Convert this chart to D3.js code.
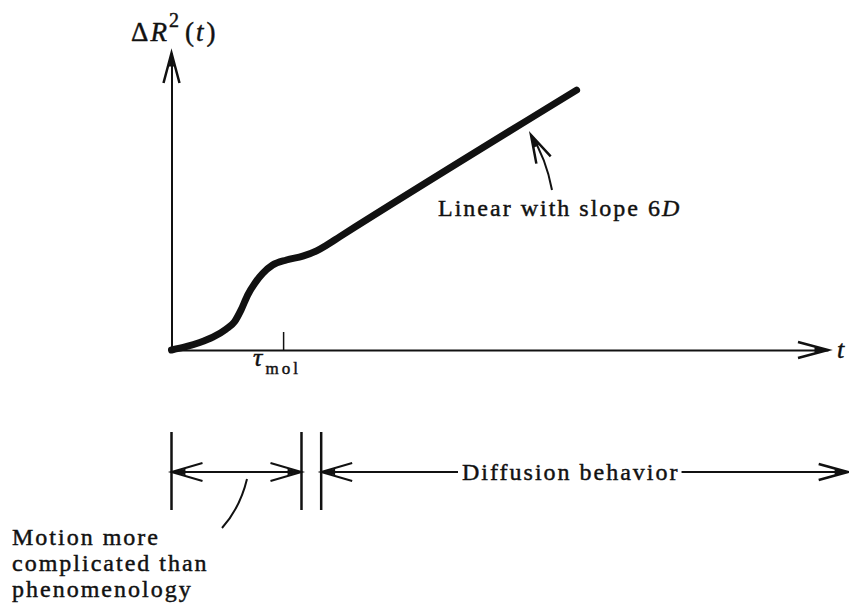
<!DOCTYPE html>
<html>
<head>
<meta charset="utf-8">
<script src="https://cdn.jsdelivr.net/npm/d3@7"></script>
<style>
  body { margin: 0; background: #fff; }
  svg { display: block; }
  text { font-family: "Liberation Serif", "Times New Roman", serif; fill: #111; stroke: #111; stroke-width: 0.45px; }
  .axis path, .axis line { stroke: #111; }
</style>
</head>
<body>
<svg id="chart"></svg>
<script>
// Mean square displacement sketch (arbitrary units)
const curveT  = [0, 2.2, 4.3, 6.3, 8.3, 9.6, 10.6, 11.6, 12.7, 13.9, 15.4, 17.5, 20.0, 22.1, 23.6, 25.6, 61.7];
const curveR2 = [0, 1.1, 2.5, 4.3, 7.0, 9.5, 13.5, 18.5, 22.5, 25.8, 28.6, 30.3, 31.6, 33.4, 35.3, 38.1, 87.5];
const tauMol = 17;
// regime boundaries on the time line below the plot
const regimeBounds = [0, 19.8, 22.8, 103];
const slopeLabel = 'Linear with slope 6';
const diffusionLabel = 'Diffusion behavior';
const motionLabel = ['Motion more', 'complicated than', 'phenomenology'];

class MsdChart {

  constructor(_config) {
    this.config = {
      parentElement: _config.parentElement,
      containerWidth: _config.containerWidth || 849,
      containerHeight: _config.containerHeight || 605
    };
    this.data = curveT.map((t, i) => ({t: t, r2: curveR2[i]}));
    this.initVis();
  }

  initVis() {
    let vis = this;

    vis.xScale = d3.scaleLinear().domain([0, 100]).range([171.5, 828]);
    vis.yScale = d3.scaleLinear().domain([0, 100]).range([350, 53]);

    vis.svg = d3.select(vis.config.parentElement)
        .attr('width', vis.config.containerWidth)
        .attr('height', vis.config.containerHeight);

    vis.chart = vis.svg.append('g');

    vis.xAxis = d3.axisBottom(vis.xScale)
        .tickValues([tauMol])
        .tickSizeInner(-18)
        .tickSizeOuter(0)
        .tickFormat('');

    vis.yAxis = d3.axisLeft(vis.yScale)
        .tickValues([])
        .tickSizeOuter(0);

    vis.xAxisG = vis.chart.append('g')
        .attr('class', 'axis x-axis')
        .attr('transform', `translate(0,${vis.yScale(0)})`);

    vis.yAxisG = vis.chart.append('g')
        .attr('class', 'axis y-axis')
        .attr('transform', `translate(${vis.xScale(0)},0)`);

    vis.renderVis();
  }

  // open arrow head, tip at (x,y), pointing along (dx,dy)
  chevron(g, x, y, dx, dy, len, half, width) {
    const n = Math.hypot(dx, dy), ux = dx / n, uy = dy / n;
    const bx = x - ux * len, by = y - uy * len;
    g.append('path')
        .attr('d', `M${bx - uy * half},${by + ux * half}L${x},${y}L${bx + uy * half},${by - ux * half}`)
        .attr('fill', 'none')
        .attr('stroke', '#111')
        .attr('stroke-width', width)
        .attr('stroke-linejoin', 'miter');
    g.append('path')
        .attr('d', `M${x - ux * len * 0.45 - uy * half * 0.35},${y - uy * len * 0.45 + ux * half * 0.35}L${x},${y}L${x - ux * len * 0.45 + uy * half * 0.35},${y - uy * len * 0.45 - ux * half * 0.35}Z`)
        .attr('fill', '#111');
  }

  renderVis() {
    let vis = this;
    const x = vis.xScale, y = vis.yScale;

    vis.xAxisG.call(vis.xAxis);
    vis.yAxisG.call(vis.yAxis);
    vis.chart.selectAll('.axis path.domain').attr('stroke-width', 2);
    vis.xAxisG.selectAll('.tick line').attr('stroke-width', 1.5);

    // axis arrow heads
    vis.chevron(vis.chart, x.range()[1], y(0), 1, 0, 30, 8, 2.5);
    vis.chevron(vis.chart, x(0), y.range()[1], 0, -1, 30, 8, 2.5);

    // the curve
    vis.line = d3.line()
        .x(d => x(d.t))
        .y(d => y(d.r2))
        .curve(d3.curveMonotoneX);

    vis.chart.selectAll('.msd-line')
        .data([vis.data])
      .join('path')
        .attr('class', 'msd-line')
        .attr('d', vis.line)
        .attr('fill', 'none')
        .attr('stroke', '#111')
        .attr('stroke-width', 7)
        .attr('stroke-linecap', 'round');

    // axis labels
    const yl = vis.chart.append('text')
        .attr('x', 131).attr('y', 41)
        .style('font-size', '27px');
    yl.append('tspan').text('Δ');
    yl.append('tspan').attr('dx', 2).style('font-style', 'italic').text('R');
    yl.append('tspan').attr('dy', -14).attr('dx', 2).style('font-size', '20px').text('2');
    yl.append('tspan').attr('dy', 14).attr('dx', 6).text('(');
    yl.append('tspan').style('font-style', 'italic').attr('dx', 2).text('t');
    yl.append('tspan').attr('dx', 3).text(')');

    vis.chart.append('text')
        .attr('x', 837).attr('y', 358)
        .style('font-size', '26px').style('font-style', 'italic')
        .text('t');

    const tl = vis.chart.append('text')
        .attr('x', x(tauMol) - 30).attr('y', 366)
        .style('font-size', '26px');
    tl.append('tspan').style('font-style', 'italic').text('τ');
    tl.append('tspan').attr('dy', 8).attr('dx', 3)
        .style('font-size', '17px').style('letter-spacing', '3px').text('mol');

    // pointer to the linear part
    vis.chart.append('path')
        .attr('d', 'M552,190Q546,158 531,135')
        .attr('fill', 'none').attr('stroke', '#111').attr('stroke-width', 2);
    vis.chevron(vis.chart, 531, 135, -13, -26, 28, 8, 2.5);

    const sl = vis.chart.append('text')
        .attr('x', 438).attr('y', 216)
        .style('font-size', '24px').style('letter-spacing', '2px');
    sl.append('tspan').text(slopeLabel);
    sl.append('tspan').style('font-style', 'italic').text('D');

    // time line of regimes
    const yt = 472;
    const bx = regimeBounds.map(d => x(d));
    vis.chart.selectAll('.bound')
        .data(regimeBounds.slice(0, 3))
      .join('line')
        .attr('class', 'bound')
        .attr('x1', d => x(d)).attr('x2', d => x(d))
        .attr('y1', 432).attr('y2', 510)
        .attr('stroke', '#111').attr('stroke-width', 2.5);

    vis.chart.append('line')
        .attr('x1', bx[0]).attr('x2', bx[1]).attr('y1', yt).attr('y2', yt)
        .attr('stroke', '#111').attr('stroke-width', 2);
    vis.chevron(vis.chart, bx[0], yt, -1, 0, 31, 9, 2);
    vis.chevron(vis.chart, bx[1], yt, 1, 0, 31, 9, 2);

    const dl = vis.chart.append('text')
        .attr('x', 462).attr('y', yt + 8)
        .style('font-size', '24px').style('letter-spacing', '2px')
        .text(diffusionLabel);
    const dw = dl.node().getComputedTextLength();

    vis.chart.append('line')
        .attr('x1', bx[2]).attr('x2', 458).attr('y1', yt).attr('y2', yt)
        .attr('stroke', '#111').attr('stroke-width', 2);
    vis.chart.append('line')
        .attr('x1', 462 + dw + 2).attr('x2', bx[3]).attr('y1', yt).attr('y2', yt)
        .attr('stroke', '#111').attr('stroke-width', 2);
    vis.chevron(vis.chart, bx[2], yt, -1, 0, 31, 9, 2);
    vis.chevron(vis.chart, bx[3], yt, 1, 0, 29, 8, 2.5);

    // pointer to the early regime and its note
    vis.chart.append('path')
        .attr('d', 'M247,479Q240,508 222,528')
        .attr('fill', 'none').attr('stroke', '#111').attr('stroke-width', 2);

    vis.chart.selectAll('.note')
        .data(motionLabel)
      .join('text')
        .attr('class', 'note')
        .attr('x', 12)
        .attr('y', (d, i) => 545 + i * 26)
        .style('font-size', '24px').style('letter-spacing', '2px')
        .text(d => d);
  }
}

new MsdChart({parentElement: '#chart'});
</script>
</body>
</html>
